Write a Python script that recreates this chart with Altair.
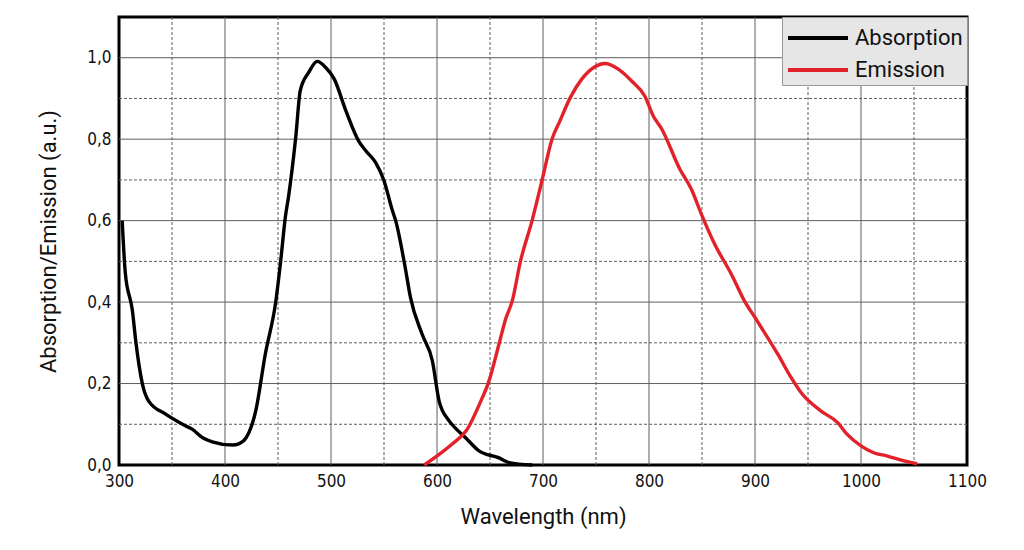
import altair as alt
import pandas as pd

# Absorption spectrum (wavelength nm, a.u.)
abs_nm = [303, 306, 312.6, 316, 322, 328, 344, 363, 369, 379, 388, 407, 413, 420, 429, 438, 448,
          452.5, 457, 460, 466.7, 471, 479, 487, 495, 503, 514, 526, 533, 542, 550, 558, 561,
          570, 575, 586, 595.6, 602, 611, 614, 627, 640, 658, 668, 690]
abs_val = [0.60, 0.47, 0.38, 0.30, 0.20, 0.157, 0.125, 0.096, 0.088, 0.067, 0.057, 0.049, 0.052,
           0.067, 0.133, 0.272, 0.403, 0.50, 0.61, 0.66, 0.804, 0.919, 0.964, 0.991, 0.976, 0.948,
           0.870, 0.796, 0.771, 0.743, 0.698, 0.624, 0.60, 0.485, 0.411, 0.321, 0.256, 0.157,
           0.110, 0.100, 0.067, 0.034, 0.018, 0.006, 0.0]

# Emission spectrum
em_nm = [588, 602, 614, 628.6, 640, 649, 658.5, 664.7, 671, 678.8, 689.7, 699, 708.5, 716, 725.7,
         736.7, 749, 758.6, 771, 783.6, 796, 804, 812, 829, 840, 849.4, 862, 877.6, 890, 901,
         921.5, 934, 943.4, 962, 978, 987, 1000, 1012, 1025, 1040.6, 1053]
em_val = [0.0, 0.026, 0.051, 0.088, 0.149, 0.206, 0.297, 0.358, 0.403, 0.501, 0.60, 0.698, 0.80,
          0.845, 0.902, 0.948, 0.978, 0.986, 0.972, 0.943, 0.906, 0.857, 0.825, 0.727, 0.677,
          0.616, 0.542, 0.469, 0.403, 0.358, 0.272, 0.215, 0.178, 0.133, 0.104, 0.075, 0.047,
          0.030, 0.022, 0.010, 0.003]

series_names = ["Absorption", "Emission"]
series_colors = ["#000000", "#e3212b"]

x_ticks = [300, 400, 500, 600, 700, 800, 900, 1000, 1100]
y_ticks = [0.0, 0.2, 0.4, 0.6, 0.8, 1.0]
x_major_grid = [400, 500, 600, 700, 800, 900, 1000]
x_minor_grid = [350, 450, 550, 650, 750, 850, 950, 1050]
y_major_grid = [0.2, 0.4, 0.6, 0.8, 1.0]
y_minor_grid = [0.1, 0.3, 0.5, 0.7, 0.9]

df = pd.concat([
    pd.DataFrame({"nm": abs_nm, "val": abs_val, "series": series_names[0]}),
    pd.DataFrame({"nm": em_nm, "val": em_val, "series": series_names[1]}),
])

xscale = alt.Scale(domain=[300, 1100], nice=False, zero=False)
yscale = alt.Scale(domain=[0, 1.1], nice=False)

tick_font = "Liberation Sans Narrow, DejaVu Sans Condensed, Roboto Condensed, Roboto, sans-serif"
title_font = "Roboto, DejaVu Sans, sans-serif"

xaxis = alt.Axis(values=x_ticks, title="Wavelength (nm)", grid=False, ticks=False, domain=False,
                 labelExpr="format(datum.value, 'd')", labelFlush=False,
                 labelFont=tick_font, labelFontSize=17, labelColor="#111", labelPadding=8,
                 titleFont=title_font, titleFontSize=22, titleFontWeight="normal",
                 titleColor="#111", titlePadding=17)
yaxis = alt.Axis(values=y_ticks, title="Absorption/Emission (a.u.)", grid=False, ticks=False,
                 domain=False, labelFlush=False,
                 labelExpr="replace(format(datum.value, '.1f'), '.', ',')",
                 labelFont=tick_font, labelFontSize=17, labelColor="#111", labelPadding=8,
                 titleFont=title_font, titleFontSize=22, titleFontWeight="normal",
                 titleColor="#111", titlePadding=26)

grid_color = "#5e5e5e"

vmaj = alt.Chart(pd.DataFrame({"x": x_major_grid})).mark_rule(color=grid_color, strokeWidth=1).encode(
    x=alt.X("x:Q", scale=xscale, axis=xaxis))
vmin = alt.Chart(pd.DataFrame({"x": x_minor_grid})).mark_rule(color=grid_color, strokeWidth=1, strokeDash=[3, 2]).encode(
    x=alt.X("x:Q", scale=xscale, axis=xaxis))
hmaj = alt.Chart(pd.DataFrame({"y": y_major_grid})).mark_rule(color=grid_color, strokeWidth=1).encode(
    y=alt.Y("y:Q", scale=yscale, axis=yaxis))
hmin = alt.Chart(pd.DataFrame({"y": y_minor_grid})).mark_rule(color=grid_color, strokeWidth=1, strokeDash=[3, 2]).encode(
    y=alt.Y("y:Q", scale=yscale, axis=yaxis))

lines = alt.Chart(df).mark_line(strokeWidth=3.4, interpolate="monotone").encode(
    x=alt.X("nm:Q", scale=xscale, axis=xaxis),
    y=alt.Y("val:Q", scale=yscale, axis=yaxis),
    color=alt.Color("series:N", scale=alt.Scale(domain=series_names, range=series_colors),
                    legend=alt.Legend(title=None, orient="top-right", offset=0,
                                      fillColor="#e6e6e6", strokeColor="#999999", padding=4,
                                      symbolType="M-2,0L2,0", symbolSize=900, symbolStrokeWidth=4,
                                      symbolOffset=15,
                                      labelFont=title_font, labelFontSize=22, labelColor="#111",
                                      labelOffset=20, rowPadding=4)),
)

chart = alt.layer(vmin, hmin, vmaj, hmaj, lines).properties(
    width=848, height=448,
    padding={"left": 29, "top": 8, "right": 5, "bottom": 5},
    background="white",
).configure_view(stroke="#000000", strokeWidth=3)

chart.save("out.html", embed_options={"renderer": "svg", "actions": False})
